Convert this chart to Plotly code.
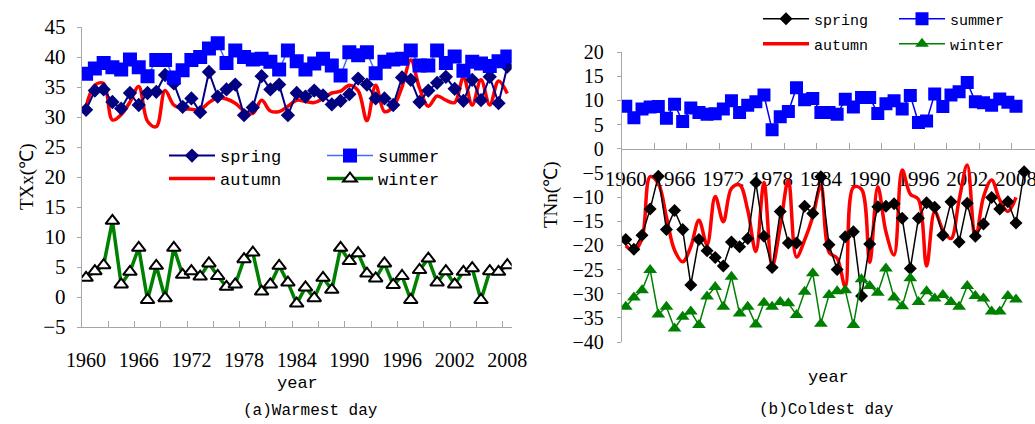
import plotly.graph_objects as go

# ---------------- data ----------------
years_a = list(range(1960, 2009))          # panel (a) categories 1960-2008
years_b = list(range(1960, 2010))          # panel (b) categories 1960-2009
tick_years = [1960, 1966, 1972, 1978, 1984, 1990, 1996, 2002, 2008]
tick_labels = ["1960", "1966", "1972", "1978", "1984", "1990", "1996", "2002", "2008"]

# (a) Warmest day TXx (deg C)
a_spring = [31.2, 34.4, 34.6, 32.5, 31.4, 34.0, 32.0, 34.0, 34.2, 37.0,
            35.6, 31.7, 33.1, 30.8, 37.5, 33.4, 34.6, 35.4, 30.3, 31.6,
            36.8, 34.6, 35.4, 30.3, 34.0, 33.4, 34.4, 33.6, 32.1, 32.7,
            33.8, 36.4, 35.4, 33.1, 33.1, 32.0, 36.6, 36.2, 32.5, 34.4,
            35.7, 36.7, 34.7, 32.7, 36.2, 32.8, 36.7, 32.3, 38.4]
a_summer = [37.2, 38.1, 39.0, 38.3, 37.9, 39.6, 38.3, 36.8, 39.5, 39.5,
            36.6, 37.8, 39.5, 40.0, 41.4, 42.3, 39.0, 41.1, 40.0, 39.6,
            39.7, 39.2, 37.9, 41.1, 39.3, 37.9, 38.9, 39.7, 38.6, 36.9,
            40.8, 40.3, 40.8, 37.3, 39.2, 39.6, 39.7, 41.1, 38.6, 38.6,
            41.1, 39.0, 40.1, 37.7, 39.2, 38.9, 38.5, 39.3, 40.1]
a_autumn = [31.7, 35.3, 35.6, 29.5, 30.4, 32.5, 35.1, 29.3, 28.4, 34.4,
            32.0, 31.4, 31.3, 31.2, 32.4, 33.2, 33.0, 32.3, 31.0, 30.6,
            32.8, 31.0, 30.9, 31.8, 32.8, 32.6, 32.4, 33.1, 34.0, 34.3,
            35.3, 34.4, 29.4, 35.3, 30.9, 31.7, 35.0, 39.5, 34.8, 31.8,
            33.5, 32.8, 32.4, 36.6, 32.0, 36.2, 32.0, 36.0, 33.9]
a_winter = [3.2, 4.3, 5.3, 12.7, 2.1, 4.2, 8.2, -0.5, 5.2, -0.2,
            8.2, 3.7, 4.3, 3.4, 5.6, 3.5, 1.7, 2.1, 6.3, 7.4,
            0.9, 2.1, 5.2, 2.4, -1.1, 1.6, -0.2, 3.2, 1.2, 8.2,
            6.0, 7.3, 3.9, 3.1, 5.6, 2.0, 3.5, -0.5, 4.5, 6.4,
            2.4, 4.3, 2.1, 4.2, 4.8, -0.5, 4.3, 4.2, 5.3]

# (b) Coldest day TNn (deg C)
b_spring = [-18.8, -20.8, -17.9, -12.5, -5.7, -16.7, -12.8, -16.7, -28.2, -18.8,
            -21.1, -22.5, -24.3, -19.3, -20.3, -18.6, -7.0, -18.1, -24.6, -13.0,
            -19.5, -19.5, -11.9, -13.4, -5.8, -19.9, -25.0, -18.2, -17.2, -30.5,
            -19.7, -12.0, -11.9, -11.4, -14.4, -24.8, -14.4, -11.2, -12.1, -17.9,
            -11.0, -19.3, -11.3, -18.1, -15.6, -10.1, -12.5, -11.0, -15.4, -4.8]
b_summer = [8.8, 6.4, 8.2, 8.6, 8.7, 6.3, 9.2, 5.6, 8.4, 7.5,
            7.1, 7.2, 8.2, 9.9, 7.5, 9.0, 9.7, 11.1, 3.9, 6.6,
            7.7, 12.6, 10.1, 10.4, 7.5, 7.5, 7.1, 10.2, 8.6, 10.6,
            10.6, 7.3, 9.3, 9.9, 8.2, 11.0, 5.4, 5.7, 11.3, 8.7,
            11.1, 11.8, 13.7, 9.7, 9.5, 9.0, 10.3, 9.6, 8.8]
b_autumn = [-20.1, -21.1, -18.6, -5.8, -7.2, -14.1, -21.0, -23.4, -20.3, -14.8,
            -19.9, -9.9, -15.1, -8.2, -7.5, -12.7, -21.3, -7.0, -24.4, -16.1,
            -6.5, -22.4, -18.9, -14.1, -7.5, -21.4, -22.7, -28.6, -8.0, -8.4,
            -23.5, -7.9, -17.2, -22.0, -4.4, -9.4, -10.5, -24.3, -13.0, -16.8,
            -18.6, -10.6, -3.4, -18.8, -10.0, -6.5, -10.6, -13.0, -10.1]
b_winter = [-32.7, -30.8, -29.3, -25.1, -34.3, -32.7, -37.2, -34.8, -33.7, -36.5,
            -30.6, -28.6, -32.7, -26.5, -34.1, -32.7, -36.4, -31.9, -32.7, -31.7,
            -32.0, -34.4, -29.6, -25.8, -36.2, -30.3, -29.5, -29.3, -36.5, -27.0,
            -28.4, -29.8, -24.8, -30.8, -32.6, -26.8, -31.7, -29.5, -31.0, -30.3,
            -31.7, -32.7, -28.4, -30.5, -31.0, -33.7, -33.7, -30.5, -31.2]

# ---------------- layout geometry ----------------
W, H = 1035, 424
GRAY = "#a6a6a6"
SERIF = "Liberation Serif"
MONO = "Liberation Mono"

def px_x(p):
    return p / W

def px_y(p):
    return 1 - p / H

ax_dom = [px_x(81.7), px_x(511.7)]
ay_dom = [px_y(327), px_y(27)]
bx_dom = [px_x(621.7), 1.0]
by_dom = [px_y(342), px_y(52)]
b_yrange = [-40, 20]
b_cat = 8.13
b_xrange = [1959.5, 1959.5 + (W - 621.7) / b_cat]
b_zero_pos = by_dom[0] + (0 - b_yrange[0]) / (b_yrange[1] - b_yrange[0]) * (by_dom[1] - by_dom[0])

fig = go.Figure()

# ---- panel (a) ----
fig.add_trace(go.Scatter(x=years_a, y=a_autumn, name="autumn", mode="lines",
                         line=dict(color="#ff0000", width=3.5, shape="spline", smoothing=1.0),
                         xaxis="x", yaxis="y", legend="legend3"))
fig.add_trace(go.Scatter(x=years_a, y=a_spring, name="spring", mode="lines+markers",
                         line=dict(color="#000080", width=2),
                         marker=dict(symbol="diamond", size=11, color="#000080"),
                         xaxis="x", yaxis="y", legend="legend"))
fig.add_trace(go.Scatter(x=years_a, y=a_summer, name="summer", mode="lines+markers",
                         line=dict(color="#3d6dff", width=1.5),
                         marker=dict(symbol="square", size=14, color="#0000ff"),
                         xaxis="x", yaxis="y", legend="legend2"))
fig.add_trace(go.Scatter(x=years_a, y=a_winter, name="winter", mode="lines+markers",
                         line=dict(color="#008000", width=3.5),
                         marker=dict(symbol="triangle-up", size=12, color="white",
                                     line=dict(color="black", width=2)),
                         xaxis="x", yaxis="y", legend="legend4"))

# ---- panel (b) ----
fig.add_trace(go.Scatter(x=years_b[:49], y=b_autumn, name="autumn", mode="lines",
                         line=dict(color="#ff0000", width=3.5, shape="spline", smoothing=1.0),
                         xaxis="x2", yaxis="y2", legend="legend7"))
fig.add_trace(go.Scatter(x=years_b, y=b_spring, name="spring", mode="lines+markers",
                         line=dict(color="black", width=1.5),
                         marker=dict(symbol="diamond", size=10, color="black"),
                         xaxis="x2", yaxis="y2", legend="legend5"))
fig.add_trace(go.Scatter(x=years_b[:49], y=b_summer, name="summer", mode="lines+markers",
                         line=dict(color="#0000ff", width=1.5),
                         marker=dict(symbol="square", size=13, color="#0000ff"),
                         xaxis="x2", yaxis="y2", legend="legend6"))
fig.add_trace(go.Scatter(x=years_b[:49], y=b_winter, name="winter", mode="lines+markers",
                         line=dict(color="#008000", width=1.5),
                         marker=dict(symbol="triangle-up", size=12, color="#008000"),
                         xaxis="x2", yaxis="y2", legend="legend8"))

fig.update_layout(
    width=W, height=H,
    margin=dict(l=0, r=0, t=0, b=0, autoexpand=False),
    paper_bgcolor="white", plot_bgcolor="white",
    showlegend=True,
    xaxis=dict(domain=ax_dom, anchor="y", range=[1959.5, 2008.5],
               tickmode="array", tickvals=tick_years, ticktext=tick_labels,
               ticks="", showgrid=False, zeroline=False,
               showline=True, linecolor=GRAY, linewidth=1,
               tickfont=dict(family=SERIF, size=20, color="black"), ticklabelstandoff=15,
               ticklabeloverflow="allow",
               minor=dict(tickmode="array",
                          tickvals=[1962.5, 1965.5, 1968.5, 1971.5, 1974.5, 1977.5, 1980.5, 1983.5,
                                    1986.5, 1989.5, 1992.5, 1995.5, 1998.5, 2001.5, 2004.5, 2007.5],
                          ticks="inside", ticklen=6, tickcolor=GRAY, tickwidth=1, showgrid=False)),
    yaxis=dict(domain=ay_dom, anchor="x", range=[-5, 45], dtick=5, tick0=0,
               ticks="outside", ticklen=4, tickcolor=GRAY,
               showgrid=False, zeroline=False, showline=True, linecolor=GRAY, linewidth=1,
               tickfont=dict(family=SERIF, size=21, color="black"), ticklabelstandoff=7),
    xaxis2=dict(domain=bx_dom, anchor="free", position=b_zero_pos,
                range=b_xrange, tickmode="array", tickvals=tick_years, ticktext=tick_labels,
                ticks="", showgrid=False, zeroline=False,
                showline=True, linecolor=GRAY, linewidth=1, layer="below traces",
                tickfont=dict(family=SERIF, size=21, color="black"), ticklabelstandoff=11,
                ticklabeloverflow="allow",
                minor=dict(tickmode="array",
                           tickvals=[1963.5, 1967.5, 1971.5, 1975.5, 1979.5, 1983.5,
                                     1987.5, 1991.5, 1995.5, 1999.5, 2003.5, 2007.5],
                           ticks="inside", ticklen=6, tickcolor=GRAY, tickwidth=1, showgrid=False)),
    yaxis2=dict(domain=by_dom, anchor="x2", range=b_yrange, dtick=5, tick0=0,
                ticks="outside", ticklen=4, tickcolor=GRAY,
                showgrid=False, zeroline=False, showline=True, linecolor=GRAY, linewidth=1,
                tickfont=dict(family=SERIF, size=20, color="black"), ticklabelstandoff=9),
)

# one legend per entry so every entry sits where the original puts it
def leg(xpx, ypx, size):
    return dict(x=px_x(xpx), y=px_y(ypx), xanchor="left", yanchor="middle",
                bgcolor="rgba(0,0,0,0)", borderwidth=0, itemwidth=46,
                font=dict(family=MONO, size=size, color="black"))

fig.update_layout(
    legend=leg(164, 156, 17), legend2=leg(322, 156, 17),
    legend3=leg(164, 179, 17), legend4=leg(322, 179, 17),
    legend5=leg(758, 19, 15), legend6=leg(894, 19, 15),
    legend7=leg(758, 44, 15), legend8=leg(894, 44, 15),
)

def note(text, x, y, family, size, angle=0):
    return dict(text=text, x=px_x(x), y=px_y(y), xanchor="center", yanchor="middle",
                textangle=angle, showarrow=False, xref="paper", yref="paper",
                font=dict(family=family, size=size, color="black"))

fig.update_layout(annotations=[
    note("TXx(℃)", 27, 177, SERIF, 19, -90),
    note("TNn(℃)", 551, 195, SERIF, 19, -90),
    note("year", 297, 383, MONO, 17),
    note("year", 828, 377, MONO, 17),
    note("(a)Warmest day", 310, 411, MONO, 16),
    note("(b)Coldest day", 826, 410, MONO, 16),
])

fig.write_html("out.html", config={"displayModeBar": False},
               post_script="document.body.style.margin='0';")
